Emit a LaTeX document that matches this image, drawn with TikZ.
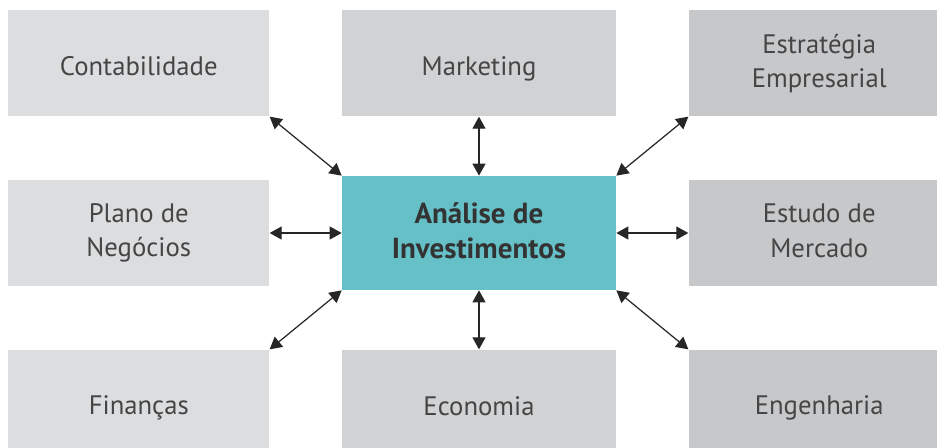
\documentclass[tikz,border=0pt]{standalone}
\usepackage{fontspec}
\setmainfont{PT Sans}
\usetikzlibrary{arrows.meta,positioning}
\definecolor{grayA}{HTML}{DCDDDF}
\definecolor{grayB}{HTML}{D1D2D4}
\definecolor{grayC}{HTML}{C7C8CA}
\definecolor{tealbox}{HTML}{66C0C7}
\definecolor{txt}{HTML}{454545}
\definecolor{txtdark}{HTML}{333333}
\newcommand{\boxstrut}{\rule[-2.7pt]{0pt}{19.5pt}}
\begin{document}
\begin{tikzpicture}[
      node distance = 1.18cm and 1.44cm,
      box/.style = {rectangle,minimum height = 2.12cm,inner sep = 0,align = center,text = txt,font = \fontsize{15.2}{19.5}\selectfont,
        execute at begin node = \boxstrut,execute at end node = \boxstrut},
      leftbox/.style = {box,fill = grayA,minimum width = 5.22cm},
      midbox/.style = {box,fill = grayB,minimum width = 5.48cm},
      rightbox/.style = {box,fill = grayC,minimum width = 5.22cm},
      main/.style = {rectangle,fill = tealbox,minimum width = 5.48cm,minimum height = 2.28cm,inner sep = 0,align = center,text = txtdark,
        font = \bfseries\fontsize{16.5}{20}\selectfont,execute at begin node = \boxstrut,execute at end node = \boxstrut},
      arrow/.style = {{Triangle[length=2.4mm,width=2.6mm]}-{Triangle[length=2.4mm,width=2.6mm]},line width = 0.7pt,draw = black!85}
    ]
      \useasboundingbox (-9.58,-4.28) rectangle (9.16,4.66);
      \node (analise)[main]{Análise de\\Investimentos};
      \node (contab)[leftbox,above left = of analise]{Contabilidade};
      \node (marketing)[midbox,above = of analise]{Marketing};
      \node (estrategia)[rightbox,above right = of analise]{Estratégia\\Empresarial};
      \node (plano)[leftbox,left = of analise]{Plano de\\Negócios};
      \node (mercado)[rightbox,right = of analise]{Estudo de\\Mercado};
      \node (financas)[leftbox,below left = of analise]{Finanças};
      \node (economia)[midbox,below = of analise]{Economia};
      \node (engenharia)[rightbox,below right = of analise]{Engenharia};

      \path (contab.south east) edge[arrow] (analise.north west);
      \path (marketing.south) edge[arrow] (analise.north);
      \path (estrategia.south west) edge[arrow] (analise.north east);
      \path (plano.east) edge[arrow] (analise.west);
      \path (mercado.west) edge[arrow] (analise.east);
      \path (financas.north east) edge[arrow] (analise.south west);
      \path (economia.north) edge[arrow] (analise.south);
      \path (engenharia.north west) edge[arrow] (analise.south east);
    \end{tikzpicture}
\end{document}
